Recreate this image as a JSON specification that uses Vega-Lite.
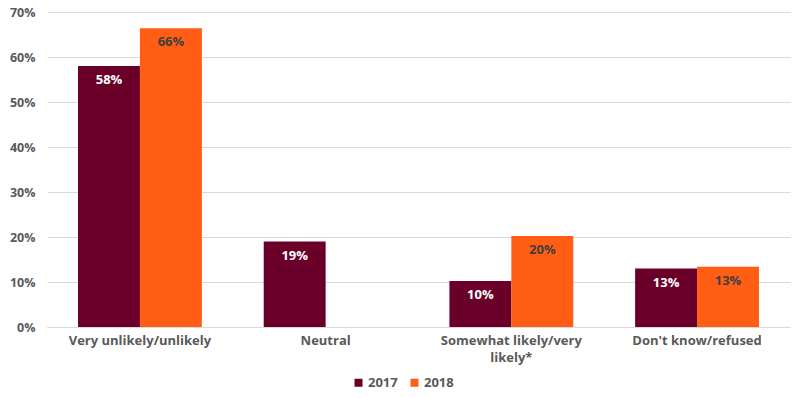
{
  "$schema": "https://vega.github.io/schema/vega-lite/v6.json",
  "width": 743,
  "height": 315,
  "padding": {"left": 9, "top": 6, "right": 10, "bottom": 0},
  "background": "white",
  "data": {
    "values": [
      {"category": "Very unlikely/unlikely", "year": "2017", "value": 0.58},
      {"category": "Very unlikely/unlikely", "year": "2018", "value": 0.664},
      {"category": "Neutral", "year": "2017", "value": 0.19},
      {"category": "Somewhat likely/very likely*", "year": "2017", "value": 0.102},
      {"category": "Somewhat likely/very likely*", "year": "2018", "value": 0.202},
      {"category": "Don't know/refused", "year": "2017", "value": 0.13},
      {"category": "Don't know/refused", "year": "2018", "value": 0.134}
    ]
  },
  "encoding": {
    "x": {
      "field": "category",
      "type": "nominal",
      "sort": null,
      "scale": {"paddingInner": 0.333, "paddingOuter": 0.167},
      "axis": {
        "title": null,
        "labelAngle": 0,
        "ticks": false,
        "domainColor": "#d9d9d9",
        "labelColor": "#595959",
        "labelFont": "Open Sans",
        "labelFontWeight": "bold",
        "labelFontSize": 13,
        "labelPadding": 7,
        "labelLimit": 300,
        "labelLineHeight": 17,
        "labelExpr": "datum.label == 'Somewhat likely/very likely*' ? ['Somewhat likely/very', 'likely*'] : datum.label"
      }
    },
    "xOffset": {"field": "year", "type": "nominal", "scale": {"domain": ["2017", "2018"]}},
    "y": {
      "field": "value",
      "type": "quantitative",
      "scale": {"domain": [0, 0.7], "nice": false},
      "axis": {
        "title": null,
        "format": ".0%",
        "values": [0, 0.1, 0.2, 0.3, 0.4, 0.5, 0.6, 0.7],
        "labelOverlap": false,
        "domain": false,
        "ticks": false,
        "gridColor": "#d9d9d9",
        "labelColor": "#595959",
        "labelFont": "Open Sans",
        "labelFontWeight": "bold",
        "labelFontSize": 12.5,
        "labelPadding": 12
      }
    }
  },
  "layer": [
    {
      "mark": {"type": "bar"},
      "encoding": {
        "color": {
          "field": "year",
          "type": "nominal",
          "scale": {"domain": ["2017", "2018"], "range": ["#6A0029", "#FF5E14"]},
          "legend": {
            "title": null,
            "orient": "none",
            "legendX": 305,
            "legendY": 364,
            "direction": "horizontal",
            "symbolType": "square",
            "symbolSize": 64,
            "symbolStrokeWidth": 0,
            "labelColor": "#595959",
            "labelFont": "Open Sans",
            "labelFontWeight": "bold",
            "labelFontSize": 13,
            "labelOffset": 3,
            "columnPadding": 10
          }
        }
      }
    },
    {
      "mark": {"type": "text", "baseline": "middle", "dy": 14, "font": "Open Sans", "fontWeight": "bold", "fontSize": 13},
      "encoding": {
        "text": {"field": "value", "type": "quantitative", "format": ".0%"},
        "color": {
          "condition": {"test": "datum.year == '2017'", "value": "white"},
          "value": "#404040"
        }
      }
    }
  ],
  "config": {"view": {"stroke": null}}
}
